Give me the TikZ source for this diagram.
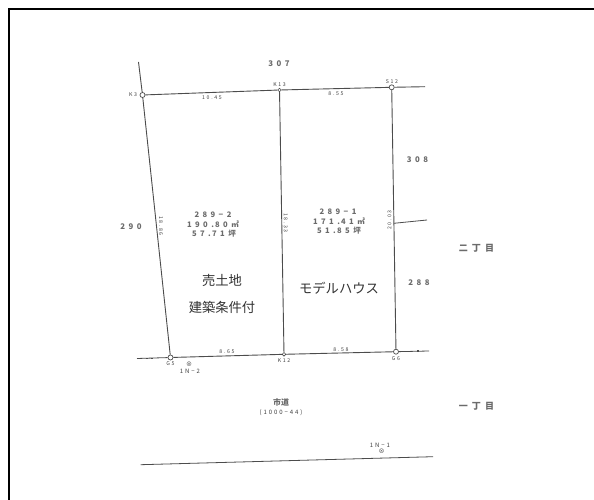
\documentclass[tikz,border=0pt]{standalone}
\usepackage{fontspec}
\setmainfont{Noto Sans CJK JP}
\newfontfamily\spaced[LetterSpace=32]{Noto Sans CJK JP}
\newfontfamily\spacedw[LetterSpace=45]{Noto Sans CJK JP}
\newcommand{\px}[1]{\fontsize{#1}{#1}\selectfont}
\definecolor{ink}{gray}{0.3}
\definecolor{txt}{gray}{0.25}
\definecolor{txtb}{gray}{0.42}
\tikzset{
  x=1pt,y=-1pt,
  frameline/.style={draw=black,line width=2.2pt},
  boundary/.style={draw=ink,line width=0.9pt},
  thinline/.style={draw=ink,line width=0.8pt},
  tick/.style={draw=ink,line width=1.6pt},
  marksq/.style={circle,draw=ink,fill=white,line width=0.7pt,inner sep=0pt,minimum size=5pt},
  marksm/.style={circle,draw=ink,fill=white,line width=0.6pt,inner sep=0pt,minimum size=3.6pt},
  lot/.style={text=txtb,inner sep=0pt,font=\spacedw\bfseries\px{7.6}},
  big/.style={text=txtb,inner sep=0pt,font=\spacedw\bfseries\px{7.8}},
  ward/.style={text=txtb,inner sep=0pt,font=\spacedw\bfseries\px{9}},
  tiny/.style={text=txt,inner sep=0pt,font=\spaced\px{5.2}},
  small/.style={text=txt,inner sep=0pt,font=\spaced\px{6}},
  sign/.style={text=txt,inner sep=0pt,font=\px{6}},
  roadname/.style={text=txtb,inner sep=0pt,font=\bfseries\px{8}},
  plan/.style={text=black!80,inner sep=0pt,font=\px{13.3}},
}
\begin{document}
\begin{tikzpicture}
\useasboundingbox (0,0) rectangle (594,500);
\fill[white] (0,0) rectangle (594,500);
% frame
\coordinate (fl) at (9,500);
\coordinate (fc) at (9,9.3);
\coordinate (fr) at (594,9.3);
\draw[frameline] (fl) -- (fc) -- (fr);
% survey points
\node[marksq] (K3) at (142.5,95) {};
\node[marksm] (K13) at (279.5,90) {};
\node[marksq] (S12) at (391.7,87.3) {};
\node[marksq] (G5) at (170.5,357.5) {};
\node[marksm] (K12) at (284,354.3) {};
\node[marksq] (G6) at (396,351.7) {};
% free ends
\coordinate (Ktop) at (138.5,62);
\coordinate (Sright) at (425,86.7);
\coordinate (Gleft) at (137,358.5);
\coordinate (Gright) at (429,351);
\coordinate (Bstart) at (393.8,223.3);
\coordinate (Bend) at (427,220);
\coordinate (Rleft) at (140.7,464.7);
\coordinate (Rright) at (433,456.7);
% boundaries
\draw[boundary] (Ktop) -- (K3);
\draw[boundary] (K3) -- (K13);
\draw[boundary] (K13) -- (S12);
\draw[boundary] (S12) -- (Sright);
\draw[boundary] (K3) -- (G5);
\draw[boundary] (K13) -- (K12);
\draw[boundary] (S12) -- (G6);
\draw[boundary] (G5) -- (K12);
\draw[boundary] (K12) -- (G6);
\draw[thinline] (Gleft) -- (G5);
\draw[thinline] (G6) -- (Gright);
\draw[thinline] (Bstart) -- (Bend);
\draw[thinline] (Rleft) -- (Rright);
% small marks on the extensions
\draw[tick] (146,358.4) -- (148,358.4) (151,358.3) -- (153,358.3);
\draw[tick] (410,351.3) -- (412,351.3) (417,351.2) -- (419,351.2);
% point labels
\node[tiny] (lK3) at (133,95) {K3};
\node[tiny] (lK13) at (279.5,85) {K13};
\node[tiny] (lS12) at (392,82) {S12};
\node[tiny] (lG5) at (170.5,363.3) {G5};
\node[tiny] (lK12) at (284,360.3) {K12};
\node[tiny] (lG6) at (396,358.2) {G6};
% dimensions
\node[tiny] (d1) at (212,97.3) {10.45};
\node[tiny] (d2) at (336,93.3) {8.55};
\node[tiny] (d3) at (227,352) {8.65};
\node[tiny] (d4) at (341,350) {8.58};
\node[tiny,rotate=-90] (d5) at (161,226) {18.86};
\node[tiny,rotate=-90] (d6) at (285.7,223) {18.33};
\node[tiny,rotate=90] (d7) at (389.5,220) {20.03};
% neighbouring lots
\node[big] (n307) at (279,64) {307};
\node[big] (n290) at (131,226.5) {290};
\node[big] (n308) at (417.5,160) {308};
\node[big] (n288) at (419,283) {288};
\node[ward] (c2) at (476.5,248) {二丁目};
\node[ward] (c1) at (476.5,406) {一丁目};
% lots
\node[lot] (a1) at (213,215) {289−2};
\node[lot] (a2) at (213,224.5) {190.\,80㎡};
\node[lot] (a3) at (214,234) {57.\,71坪};
\node[lot] (b1) at (338,212) {289−1};
\node[lot] (b2) at (339,221.5) {171.\,41㎡};
\node[lot] (b3) at (339,231) {51.\,85坪};
% hand labels
\node[plan] (s1) at (222,280) {売土地};
\node[plan] (s2) at (222,307) {建築条件付};
\node[plan] (s3) at (339,288) {モデルハウス};
% road
\node[roadname] (r1) at (281,402.5) {市道};
\node[small] (r2) at (281,413) {(1000−44)};
\node[small] (p1) at (380,445) {1N−1};
\node[sign] (p1m) at (381.7,451.3) {⊗};
\node[small] (p2) at (190,371) {1N−2};
\node[sign] (p2m) at (189,364) {⊗};
\end{tikzpicture}
\end{document}
